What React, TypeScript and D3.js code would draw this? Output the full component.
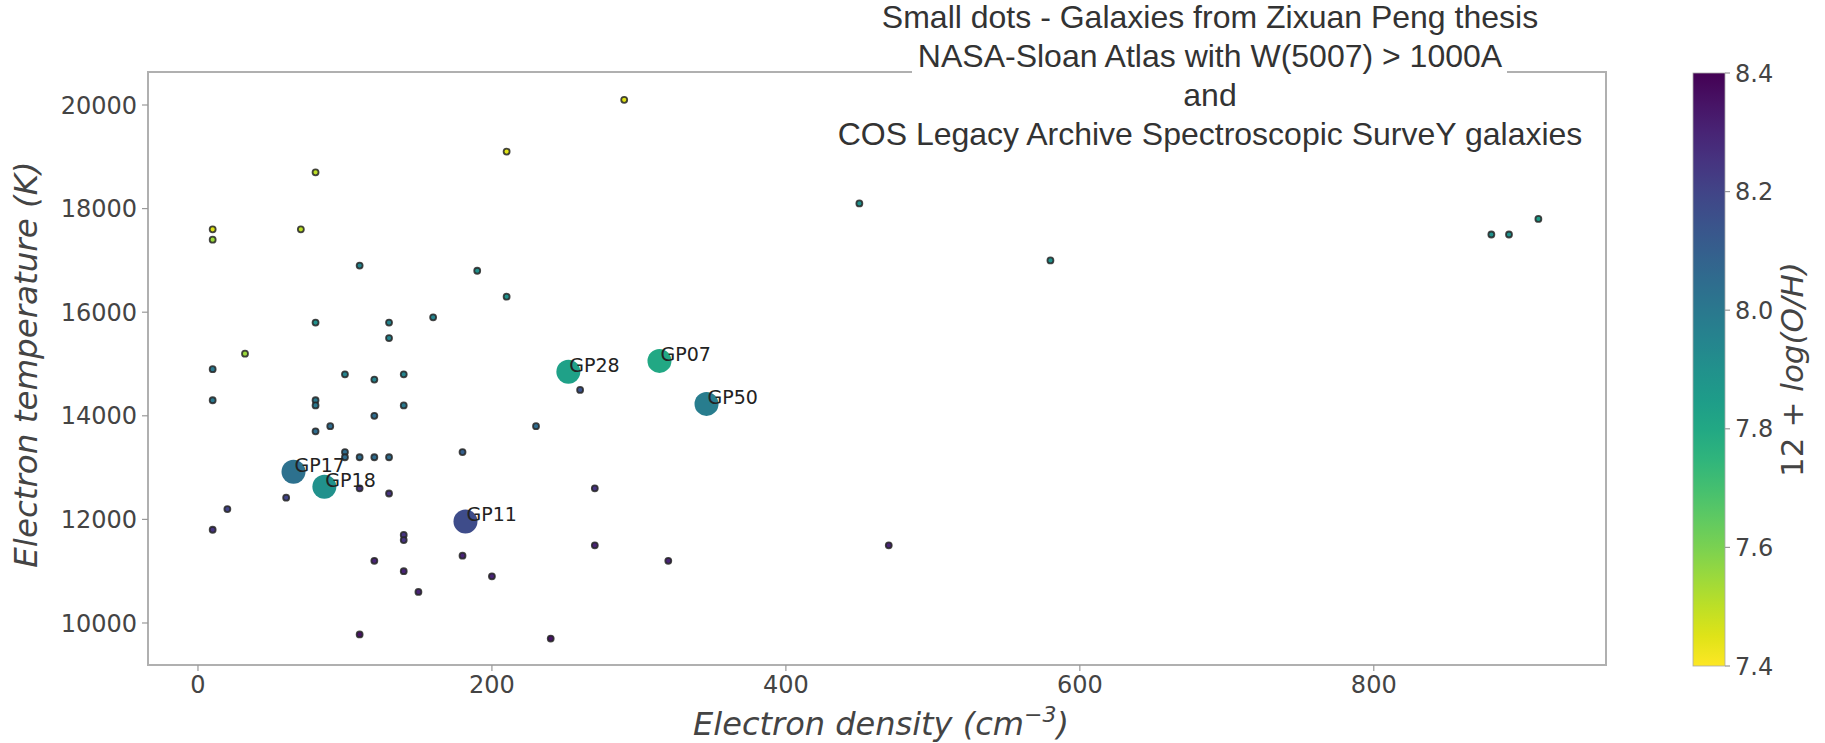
import React from "react";
import * as d3 from "d3";

// ---- Data ----
const smallDensity = [290, 210, 80, 10, 10, 70, 32, 450, 580, 880, 892, 912, 110, 190, 210, 80, 130, 130, 160, 10, 100, 120, 140, 10, 80, 80, 140, 120, 90, 80, 100, 100, 110, 120, 130, 60, 110, 130, 20, 10, 140, 140, 120, 140, 150, 110, 180, 180, 200, 240, 230, 260, 270, 270, 320, 470];
const smallTemp = [20100, 19100, 18700, 17600, 17400, 17600, 15200, 18100, 17000, 17500, 17500, 17800, 16900, 16800, 16300, 15800, 15800, 15500, 15900, 14900, 14800, 14700, 14800, 14300, 14300, 14200, 14200, 14000, 13800, 13700, 13300, 13200, 13200, 13200, 13200, 12420, 12600, 12500, 12200, 11800, 11700, 11600, 11200, 11000, 10600, 9780, 13300, 11300, 10900, 9700, 13800, 14500, 12600, 11500, 11200, 11500];
const smallOH = [7.45, 7.45, 7.5, 7.45, 7.55, 7.5, 7.55, 7.9, 7.9, 7.9, 7.9, 7.85, 7.95, 7.9, 7.9, 7.9, 7.95, 7.95, 7.95, 8.0, 7.95, 7.95, 7.95, 8.0, 8.0, 8.0, 8.0, 8.05, 8.05, 8.05, 8.05, 8.05, 8.05, 8.05, 8.05, 8.2, 8.25, 8.25, 8.2, 8.25, 8.25, 8.25, 8.3, 8.3, 8.3, 8.35, 8.1, 8.3, 8.3, 8.35, 8.05, 8.15, 8.25, 8.3, 8.3, 8.3];

const gpNames = ["GP07", "GP28", "GP50", "GP17", "GP18", "GP11"];
const gpDensity = [314, 252, 346, 65, 86, 182];
const gpTemp = [15060, 14850, 14230, 12920, 12630, 11960];
const gpOH = [7.8, 7.83, 7.98, 8.03, 7.9, 8.17];

const xTicks = [0, 200, 400, 600, 800];
const yTicks = [10000, 12000, 14000, 16000, 18000, 20000];
const cTicks = [7.4, 7.6, 7.8, 8.0, 8.2, 8.4];

const titleLines = [
  "Small dots - Galaxies from Zixuan Peng thesis",
  "NASA-Sloan Atlas with W(5007) > 1000A",
  "and",
  "COS Legacy Archive Spectroscopic SurveY galaxies",
];

// ---- Layout ----
const W = 1825, H = 743;
const L = 148, R = 1606, T = 72, B = 665;
const CB = { x0: 1693, x1: 1725, y0: 73, y1: 666 };

export default function App() {
  const x = d3.scaleLinear().domain([-34, 958]).range([L, R]);
  const y = d3.scaleLinear().domain([9189, 20637]).range([B, T]);
  const c = d3.scaleLinear().domain([7.4, 8.4]).range([CB.y1, CB.y0]);
  const col = (v: number) => d3.interpolateViridis((8.4 - v) / 1.0);

  const stops = d3.range(0, 1.0001, 0.05);
  const tickFont = "DejaVu Sans, sans-serif";

  return (
    <svg width={W} height={H} style={{ position: "absolute", left: 0, top: 0, background: "#fff" }}>
      <defs>
        <linearGradient id="cbar" x1="0" y1="1" x2="0" y2="0">
          {stops.map((s) => (
            <stop key={s} offset={s} stopColor={col(7.4 + s)} />
          ))}
        </linearGradient>
      </defs>
      <rect x={0} y={0} width={W} height={H} fill="#fff" />

      {/* frame */}
      <rect x={L} y={T} width={R - L} height={B - T} fill="none" stroke="#b0b0b0" strokeWidth={2} />

      {/* x ticks */}
      {xTicks.map((t) => (
        <g key={"x" + t}>
          <line x1={x(t)} x2={x(t)} y1={B} y2={B + 6} stroke="#999" strokeWidth={1.2} />
          <text x={x(t)} y={693} textAnchor="middle" fontFamily={tickFont} fontSize={24} fill="#444">
            {t}
          </text>
        </g>
      ))}
      {/* y ticks */}
      {yTicks.map((t) => (
        <g key={"y" + t}>
          <line x1={L - 6} x2={L} y1={y(t)} y2={y(t)} stroke="#999" strokeWidth={1.2} />
          <text x={137} y={y(t)} dy="0.36em" textAnchor="end" fontFamily={tickFont} fontSize={24} fill="#444">
            {t}
          </text>
        </g>
      ))}

      {/* axis labels */}
      <text
        transform={`translate(37,${(T + B) / 2 - 4}) rotate(-90)`}
        textAnchor="middle"
        fontFamily={tickFont}
        fontStyle="italic"
        fontSize={32.5}
        fill="#444"
      >
        Electron temperature (K)
      </text>
      <text x={(L + R) / 2 + 4} y={735} textAnchor="middle" fontFamily={tickFont} fontStyle="italic" fontSize={32} fill="#444">
        Electron density (cm
        <tspan dy={-13} fontSize={22}>−3</tspan>
        <tspan dy={13}>)</tspan>
      </text>

      {/* small dots */}
      {smallDensity.map((n, i) => (
        <circle key={"s" + i} cx={x(n)} cy={y(smallTemp[i])} r={3} fill={col(smallOH[i])} stroke="#262626" strokeWidth={1.8} strokeOpacity={0.85} />
      ))}

      {/* big dots */}
      {gpDensity.map((n, i) => (
        <circle key={"g" + i} cx={x(n)} cy={y(gpTemp[i])} r={12} fill={col(gpOH[i])} />
      ))}
      {gpDensity.map((n, i) => (
        <text key={"gl" + i} x={x(n) + 1} y={y(gpTemp[i])} fontFamily={tickFont} fontSize={19} fill="#222">
          {gpNames[i]}
        </text>
      ))}

      {/* title block */}
      <rect x={912} y={38} width={595} height={39} fill="#fff" />
      <rect x={1182} y={76} width={54} height={36} fill="#fff" />
      {titleLines.map((s, i) => (
        <text key={"t" + i} x={1210} y={28 + i * 39} textAnchor="middle" fontFamily="Liberation Sans, Arial, sans-serif" fontSize={32} fill="#333">
          {s}
        </text>
      ))}

      {/* colorbar */}
      <rect x={CB.x0} y={CB.y0} width={CB.x1 - CB.x0} height={CB.y1 - CB.y0} fill="url(#cbar)" stroke="#aaa" strokeWidth={0.8} />
      {cTicks.map((t) => (
        <g key={"c" + t}>
          <line x1={CB.x1} x2={CB.x1 + 5} y1={c(t)} y2={c(t)} stroke="#999" strokeWidth={1.2} />
          <text x={1735} y={c(t)} dy="0.36em" fontFamily={tickFont} fontSize={24} fill="#444">
            {t.toFixed(1)}
          </text>
        </g>
      ))}
      <text transform={`translate(1803,${(CB.y0 + CB.y1) / 2}) rotate(-90)`} textAnchor="middle" fontFamily={tickFont} fontSize={31} fill="#444">
        12 + <tspan fontStyle="italic">log(O/H)</tspan>
      </text>
    </svg>
  );
}
